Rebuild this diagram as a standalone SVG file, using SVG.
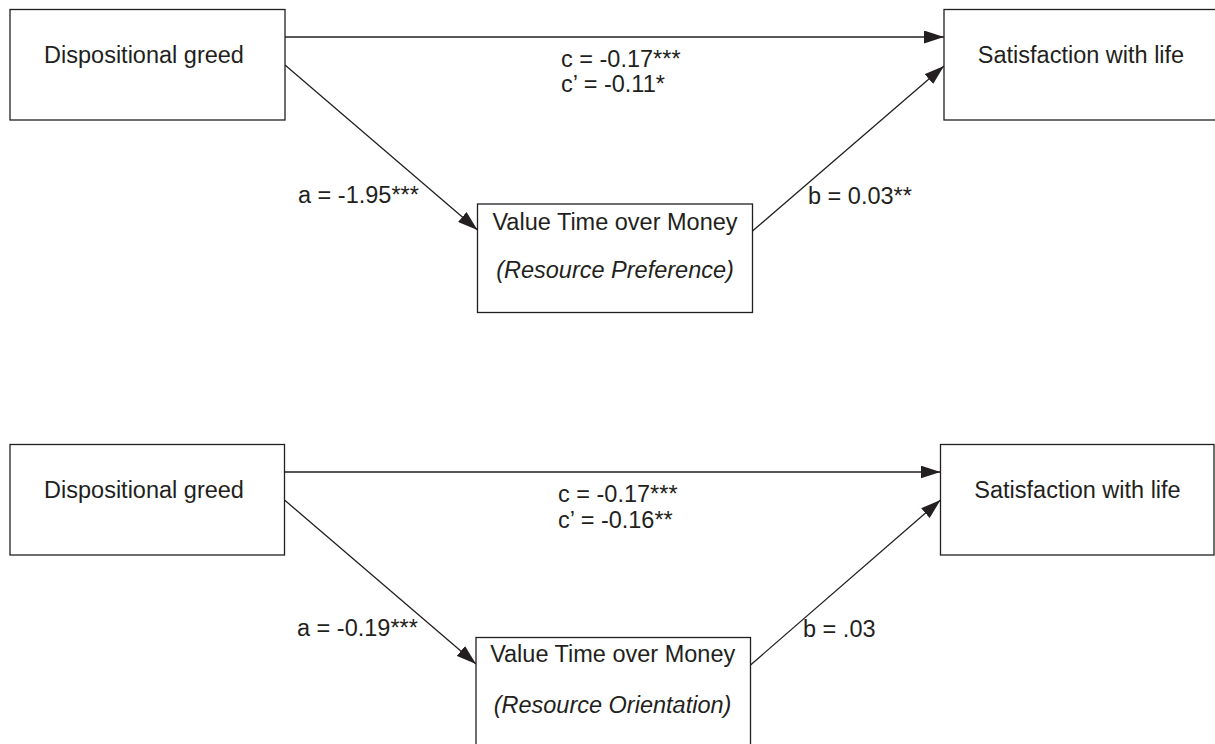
<svg xmlns="http://www.w3.org/2000/svg" width="1215" height="744" viewBox="0 0 1215 744">
<defs>
<marker id="arr" markerUnits="userSpaceOnUse" markerWidth="20" markerHeight="13" refX="20" refY="6.5" orient="auto">
<path d="M0,0 L20,6.5 L0,13 z" fill="#231f20"/>
</marker>
<style>
.box{fill:#fff;stroke:#231f20;stroke-width:1.3}
.ln{fill:none;stroke:#231f20;stroke-width:1.3;marker-end:url(#arr)}
text{font-family:"Liberation Sans",Arial,sans-serif;font-size:23.5px;fill:#231f20}
.c{text-anchor:middle}
.i{font-style:italic}
</style>
</defs>
<rect width="1215" height="744" fill="#fff"/>
<g id="connectors">
<line class="ln" x1="285" y1="37" x2="944" y2="37"/>
<line class="ln" x1="285" y1="65" x2="477.5" y2="230"/>
<line class="ln" x1="752.5" y1="231" x2="944" y2="66"/>
<line class="ln" x1="284.5" y1="472" x2="940.5" y2="472"/>
<line class="ln" x1="284.5" y1="500" x2="476" y2="664"/>
<line class="ln" x1="750.5" y1="665" x2="940.5" y2="500"/>
</g>
<g id="labels">
<text x="561" y="67">c = -0.17***</text>
<text x="561" y="92">c’ = -0.11*</text>
<text x="298" y="203">a = -1.95***</text>
<text x="808" y="204">b = 0.03**</text>
<text x="558" y="502">c = -0.17***</text>
<text x="558" y="528">c’ = -0.16**</text>
<text x="297" y="636">a = -0.19***</text>
<text x="803" y="637">b = .03</text>
</g>
<g id="greed1">
<rect class="box" x="10" y="9.5" width="275" height="110.5"/>
<text class="c" x="144" y="63">Dispositional greed</text>
</g>
<g id="life1">
<rect class="box" x="944" y="9.5" width="290" height="110.5"/>
<text class="c" x="1081" y="63">Satisfaction with life</text>
</g>
<g id="vtom1">
<rect class="box" x="477.5" y="204" width="275" height="108.5"/>
<text class="c" x="615" y="230">Value Time over Money</text>
<text class="c i" x="615" y="278">(Resource Preference)</text>
</g>
<g id="greed2">
<rect class="box" x="10" y="444.5" width="274.5" height="110.5"/>
<text class="c" x="144" y="498">Dispositional greed</text>
</g>
<g id="life2">
<rect class="box" x="940.5" y="444.5" width="273.5" height="110.5"/>
<text class="c" x="1077.5" y="498">Satisfaction with life</text>
</g>
<g id="vtom2">
<rect class="box" x="476" y="637.5" width="274.5" height="120"/>
<text class="c" x="612.7" y="662">Value Time over Money</text>
<text class="c i" x="612.5" y="713">(Resource Orientation)</text>
</g>
</svg>
